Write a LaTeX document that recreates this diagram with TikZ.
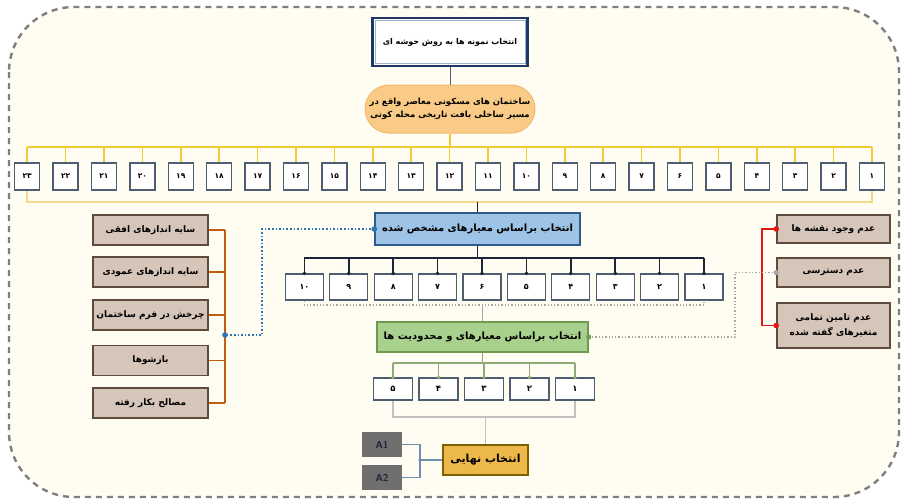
\documentclass[tikz,border=0pt]{standalone}
\usepackage{fontspec}
\newfontfamily\arabicfont[Script=Arabic]{DejaVu Sans}
\TeXXeTstate=1

\definecolor{cream}{HTML}{FFFDF2}
\definecolor{framegray}{HTML}{7F7F7F}
\definecolor{navy}{HTML}{1F3864}
\definecolor{paleblue}{HTML}{9FB4CC}
\definecolor{ovalfill}{HTML}{F9CB86}
\definecolor{ovalline}{HTML}{F4B870}
\definecolor{busyellow}{HTML}{F2CB2E}
\definecolor{buslight}{HTML}{F7D88A}
\definecolor{boxline}{HTML}{4F5D73}
\definecolor{bluefill}{HTML}{9DC3E6}
\definecolor{blueline}{HTML}{2E5C8A}
\definecolor{darkbar}{HTML}{1C2536}
\definecolor{dotgray}{HTML}{A6A6A6}
\definecolor{greenfill}{HTML}{A9D18E}
\definecolor{greenline}{HTML}{6E9A4F}
\definecolor{greenbar}{HTML}{8FAA78}
\definecolor{tanfill}{HTML}{D6C6BA}
\definecolor{tanline}{HTML}{5E4B3C}
\definecolor{rustline}{HTML}{C55A11}
\definecolor{dotblue}{HTML}{2E75B6}
\definecolor{redline}{HTML}{E01818}
\definecolor{goldfill}{HTML}{EDB84A}
\definecolor{goldline}{HTML}{7F6000}
\definecolor{slate}{HTML}{6F6F6F}
\definecolor{abracket}{HTML}{6D8FB3}

\begin{document}
\begin{tikzpicture}[x = 1pt, y = -1pt,
	fa/.style = {font = \arabicfont\bfseries\fontsize{#1}{#1}\selectfont},
	numbox/.style = {draw = boxline, line width = 1.3pt, fill = white, inner sep = 0pt},
	tanbox/.style = {draw = tanline, line width = 1.6pt, fill = tanfill, inner sep = 0pt, align = center, fa = 9},
	tick/.style = {fill, circle, inner sep = 1.4pt}]

	\useasboundingbox (0, 0) rectangle (902, 499);

	% Frame

	\draw [framegray, fill = cream, line width = 2.4pt, dash pattern = on 6pt off 5pt, rounded corners = 65pt] (9, 7) rectangle (899, 497);

	% Title and group

	\node [draw = navy, line width = 2.2pt, fill = white, minimum width = 155pt, minimum height = 48pt, fa = 8] (title) at (450, 42) {\beginR انتخاب نمونه ها به روش خوشه ای\endR};
	\draw [paleblue, line width = 0.8pt] ([xshift = 3.5pt, yshift = -3.5pt]title.north west) rectangle ([xshift = -3.5pt, yshift = 3.5pt]title.south east);

	\node [draw = ovalline, line width = 1pt, fill = ovalfill, rounded corners = 24pt, minimum width = 170pt, minimum height = 48pt, align = center, fa = 8.5] (group) at (450, 109) {\beginR ساختمان های مسکونی معاصر واقع در\endR\\[3pt] \beginR مسیر ساحلی بافت تاریخی محله کوتی\endR};
	\draw [boxline, line width = 1pt] (title.south) -- (group.north);

	% Buildings (first row)

	\coordinate (bus) at (0, 147);
	\coordinate (low) at (0, 202);

	\foreach \i/\d in {1/۱, 2/۲, 3/۳, 4/۴, 5/۵, 6/۶, 7/۷, 8/۸, 9/۹, 10/۱۰, 11/۱۱, 12/۱۲, 13/۱۳, 14/۱۴, 15/۱۵, 16/۱۶, 17/۱۷, 18/۱۸, 19/۱۹, 20/۲۰, 21/۲۱, 22/۲۲, 23/۲۳}
	{
		\node [numbox, minimum width = 25pt, minimum height = 27pt, fa = 7.5] (r\i) at ({872 - (\i - 1) * 38.4}, 176.5) {\d};
		\draw [busyellow, line width = 1.6pt] (r\i.north |- bus) -- (r\i.north);
	}
	\draw [busyellow, line width = 1.6pt] (r23.north |- bus) -- (r1.north |- bus);
	\draw [busyellow, line width = 1.2pt] (group.south) -- (group.south |- bus);
	\draw [buslight, line width = 1.6pt] (r23.south) -- (r23.south |- low) -- (r1.south |- low) -- (r1.south);

	% Criteria step

	\node [draw = blueline, line width = 1.4pt, fill = bluefill, minimum width = 205pt, minimum height = 32pt, fa = 10] (crit) at (477.5, 229) {\beginR انتخاب براساس معیارهای مشخص شده\endR};
	\draw [darkbar, line width = 1pt] (crit.north |- low) -- (crit.north);

	\coordinate (bar) at (0, 258);
	\coordinate (mid) at (0, 305);

	\foreach \i/\d in {1/۱, 2/۲, 3/۳, 4/۴, 5/۵, 6/۶, 7/۷, 8/۸, 9/۹, 10/۱۰}
	{
		\node [numbox, minimum width = 38pt, minimum height = 26pt, fa = 8] (c\i) at ({704 - (\i - 1) * 44.4}, 287) {\d};
		\draw [darkbar, line width = 1.5pt] (c\i.north |- bar) -- (c\i.north);
		\node [tick, darkbar] at (c\i.north) {};
	}
	\draw [darkbar, line width = 1.8pt] (c10.north |- bar) -- (c1.north |- bar);
	\draw [darkbar, line width = 1.5pt] (crit.south) -- (crit.south |- bar);
	\draw [dotgray, line width = 1.3pt, dotted] (c10.south) -- (c10.south |- mid) -- (c1.south |- mid) -- (c1.south);

	% Climate factors (left)

	\foreach \j/\y/\t in {1/230/سایه اندازهای افقی, 2/272/سایه اندازهای عمودی, 3/315/چرخش در فرم ساختمان, 4/360.5/بازشوها, 5/403/مصالح بکار رفته}
	{
		\node [tanbox, minimum width = 115pt, minimum height = 30pt] (f\j) at (150.5, \y) {\beginR \t\endR};
		\draw [rustline, line width = 1.4pt] (f\j.east) -- (225, \y);
	}
	\draw [rustline, line width = 1.4pt] (225, 230) -- (225, 403);

	\coordinate (fjoin) at (225, 335);
	\draw [dotblue, line width = 1.6pt, dotted] (crit.west) -| (262, 335) -- (fjoin);
	\node [tick, dotblue, inner sep = 2pt] at (crit.west) {};
	\node [tick, dotblue, inner sep = 2pt] at (fjoin) {};

	% Limits (right)

	\node [tanbox, minimum width = 113pt, minimum height = 28pt] (l1) at (833.5, 229) {\beginR عدم وجود نقشه ها\endR};
	\node [tanbox, minimum width = 113pt, minimum height = 29pt] (l2) at (833.5, 272.5) {\beginR عدم دسترسی\endR};
	\node [tanbox, minimum width = 113pt, minimum height = 45pt] (l3) at (833.5, 325.5) {\beginR عدم تامین تمامی\endR\\[4pt] \beginR متغیرهای گفته شده\endR};

	\draw [redline, line width = 1.2pt] (l1.west) -- (762, 229) -- (762, 325.5) -- (l3.west);
	\node [tick, redline, inner sep = 2pt] at (l1.west) {};
	\node [tick, redline, inner sep = 2pt] at (l3.west) {};

	% Limits step

	\node [draw = greenline, line width = 1.4pt, fill = greenfill, minimum width = 211pt, minimum height = 30pt, fa = 10] (limit) at (482.5, 337) {\beginR انتخاب براساس معیارهای و محدودیت ها\endR};
	\draw [dotgray, line width = 1.2pt] (limit.north |- mid) -- (limit.north);

	\draw [dotgray, line width = 1.3pt, dotted] (limit.east) -- (735, 337) |- (l2.west);
	\node [tick, dotgray, inner sep = 1.8pt] at (l2.west) {};
	\node [tick, greenline, inner sep = 1.8pt] at (limit.east) {};

	\coordinate (gbar) at (0, 363);
	\coordinate (glow) at (0, 417);

	\foreach \i/\d in {1/۱, 2/۲, 3/۳, 4/۴, 5/۵}
	{
		\node [numbox, minimum width = 39pt, minimum height = 22pt, fa = 8.5] (g\i) at ({575 - (\i - 1) * 45.5}, 389) {\d};
		\draw [greenbar, line width = 1.6pt] (g\i.north |- gbar) -- (g\i.north);
		\node [tick, greenbar] at (g\i.north) {};
	}
	\draw [greenbar, line width = 1.8pt] (g5.north |- gbar) -- (g1.north |- gbar);
	\draw [greenbar, line width = 1.6pt] (limit.south) -- (limit.south |- gbar);
	\draw [dotgray!70, line width = 1.2pt] (g5.south) -- (g5.south |- glow) -- (g1.south |- glow) -- (g1.south);

	% Final choice

	\node [draw = goldline, line width = 1.4pt, fill = goldfill, minimum width = 85pt, minimum height = 30pt, fa = 11] (final) at (485.5, 460) {\beginR انتخاب نهایی\endR};
	\draw [dotgray!70, line width = 1.2pt] (final.north |- glow) -- (final.north);

	\node [fill = slate, minimum width = 40pt, minimum height = 25pt, font = \sffamily\bfseries, text = darkbar] (a1) at (382, 444.5) {A1};
	\node [fill = slate, minimum width = 40pt, minimum height = 25pt, font = \sffamily\bfseries, text = darkbar] (a2) at (382, 477.5) {A2};

	\coordinate (ajoin) at (420, 460);
	\draw [abracket, line width = 1.2pt] (a1.east) -| (ajoin) |- (a2.east);
	\draw [abracket, line width = 1.2pt] (ajoin) -- (final.west);
	\node [tick, abracket] at (ajoin) {};

\end{tikzpicture}
\end{document}
